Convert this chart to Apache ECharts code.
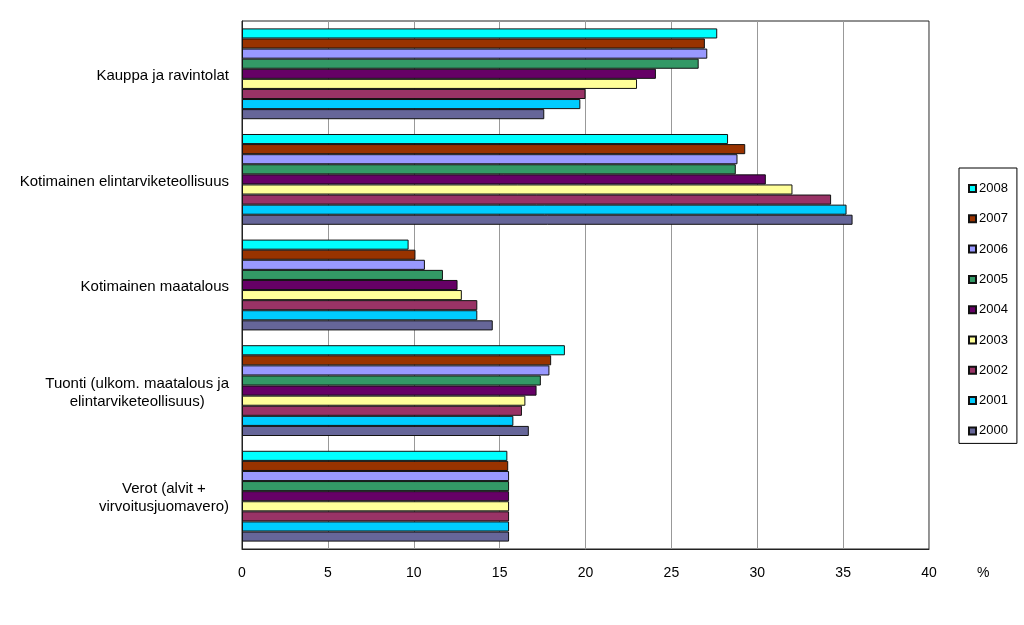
<!DOCTYPE html>
<html>
<head>
<meta charset="utf-8">
<script src="https://cdn.jsdelivr.net/npm/echarts@6/dist/echarts.min.js"></script>
<style>
html,body{margin:0;padding:0;background:#fff;}
#c{width:1024px;height:625px;}
</style>
</head>
<body>
<div id="c"></div>
<script>
const categories = [
  'Kauppa ja ravintolat',
  'Kotimainen elintarviketeollisuus',
  'Kotimainen maatalous',
  'Tuonti (ulkom. maatalous ja\nelintarviketeollisuus)',
  'Verot (alvit +\nvirvoitusjuomavero)'
];
const years = ['2008','2007','2006','2005','2004','2003','2002','2001','2000'];
const colors = ['#00FFFF','#993300','#9999FF','#339966','#660066','#FFFF99','#993366','#00CCFF','#666699'];
// values per year, in category order
const v2008 = [27.67, 28.3, 9.7, 18.8, 15.45];
const v2007 = [26.95, 29.3, 10.1, 18.0, 15.5];
const v2006 = [27.09, 28.85, 10.65, 17.9, 15.55];
const v2005 = [26.59, 28.75, 11.7, 17.4, 15.55];
const v2004 = [24.1, 30.5, 12.55, 17.15, 15.55];
const v2003 = [23.0, 32.05, 12.8, 16.5, 15.55];
const v2002 = [20.0, 34.3, 13.7, 16.3, 15.55];
const v2001 = [19.7, 35.2, 13.7, 15.8, 15.55];
const v2000 = [17.6, 35.55, 14.6, 16.7, 15.55];
const values = [v2008, v2007, v2006, v2005, v2004, v2003, v2002, v2001, v2000];
const xTicks = [0, 5, 10, 15, 20, 25, 30, 35, 40];

const chart = echarts.init(document.getElementById('c'), null, {renderer: 'canvas'});
const font = 'Arial, "Liberation Sans", sans-serif';
chart.setOption({
  animation: false,
  backgroundColor: '#fff',
  textStyle: {fontFamily: font},
  grid: {left: 242, right: 95, top: 21, bottom: 76, show: true, borderColor: '#222', borderWidth: 1, containLabel: false},
  legend: {
    data: years,
    orient: 'vertical',
    left: 959,
    top: 168,
    itemWidth: 7,
    itemHeight: 7,
    itemGap: 17.3,
    icon: 'rect',
    padding: [14, 9, 6, 9],
    borderColor: '#000',
    borderWidth: 1,
    textStyle: {fontSize: 13, color: '#000', fontFamily: font, padding: [0, 0, 0, -2]}
  },
  graphic: [{
    type: 'text', left: 977, top: 566,
    style: {text: '%', fontSize: 14, fill: '#000', fontFamily: font}
  }],
  xAxis: {
    type: 'value',
    min: xTicks[0],
    max: xTicks[xTicks.length - 1],
    interval: 5,
    axisLine: {show: true, lineStyle: {color: '#222'}},
    axisTick: {show: false},
    splitLine: {show: true, lineStyle: {color: '#999', width: 1}},
    axisLabel: {fontSize: 14, color: '#000', margin: 17, fontFamily: font}
  },
  yAxis: {
    type: 'category',
    data: categories,
    inverse: true,
    axisLine: {show: true, lineStyle: {color: '#222'}},
    axisTick: {show: false},
    axisLabel: {
      fontSize: 15, color: '#000', margin: 13, fontFamily: font, lineHeight: 18,
      padding: [4, 0, 0, 0],
      formatter: function (v) { return v.split('\n').map(function (l) { return '{c|' + l + '}'; }).join('\n'); },
      rich: {c: {align: 'center', fontSize: 15, lineHeight: 18, fontFamily: font, color: '#000'}}
    }
  },
  series: years.map(function (y, i) {
    return {
      name: y,
      type: 'bar',
      data: values[i],
      barGap: '0%',
      barCategoryGap: '14%',
      itemStyle: {color: colors[i], borderColor: '#111', borderWidth: 1}
    };
  })
});
</script>
</body>
</html>
